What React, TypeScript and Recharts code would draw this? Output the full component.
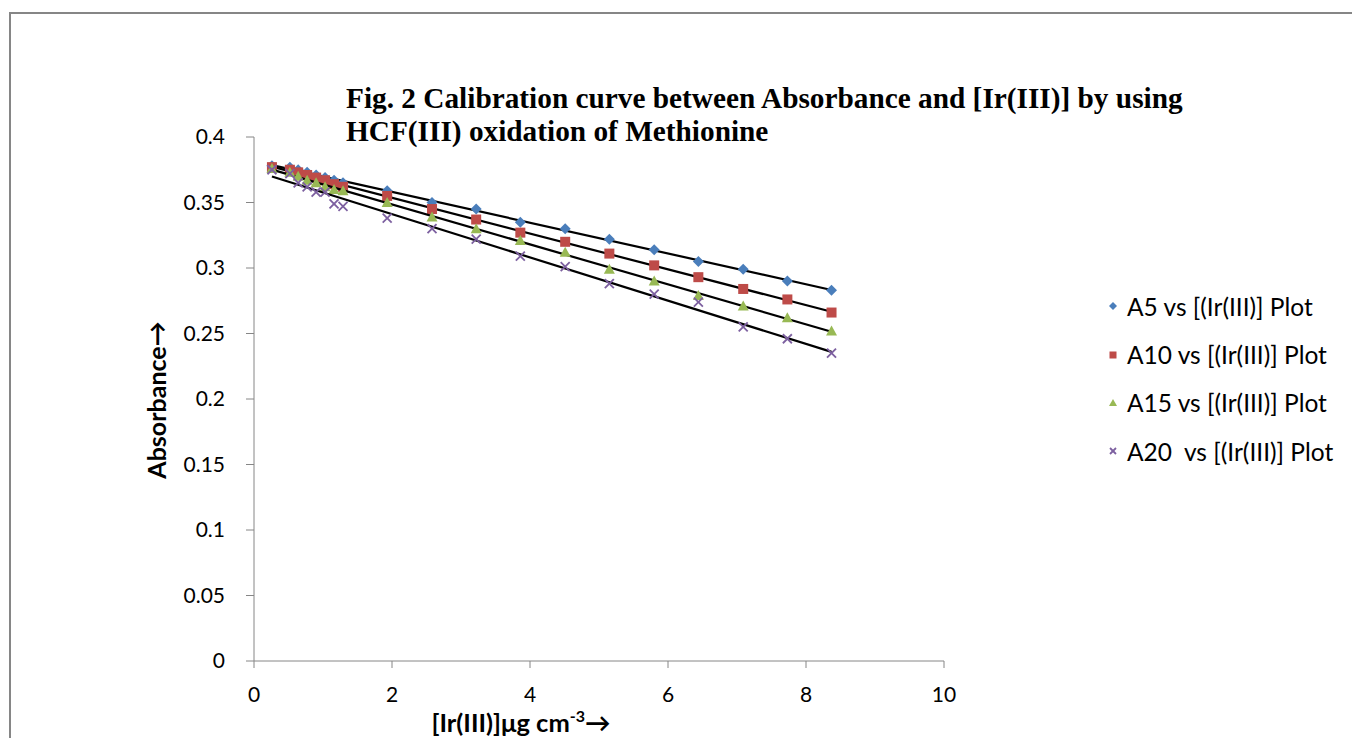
import { ScatterChart, Scatter, XAxis, YAxis, Label } from 'recharts';

// [Ir(III)] in µg cm-3
const concentration = [0.26, 0.52, 0.64, 0.77, 0.9, 1.03, 1.16, 1.29, 1.93, 2.58, 3.22, 3.86, 4.51, 5.15, 5.8, 6.44, 7.09, 7.73, 8.37];

const absorbanceA5 = [0.378, 0.377, 0.375, 0.373, 0.371, 0.369, 0.367, 0.365, 0.359, 0.35, 0.345, 0.335, 0.33, 0.322, 0.314, 0.305, 0.299, 0.29, 0.283];
const absorbanceA10 = [0.377, 0.375, 0.373, 0.371, 0.369, 0.367, 0.364, 0.362, 0.355, 0.345, 0.337, 0.327, 0.32, 0.311, 0.302, 0.293, 0.284, 0.276, 0.266];
const absorbanceA15 = [0.376, 0.373, 0.37, 0.367, 0.365, 0.362, 0.36, 0.359, 0.35, 0.339, 0.33, 0.321, 0.312, 0.299, 0.29, 0.279, 0.271, 0.262, 0.252];
const absorbanceA20 = [0.375, 0.372, 0.365, 0.362, 0.358, 0.358, 0.349, 0.347, 0.338, 0.33, 0.322, 0.309, 0.301, 0.288, 0.28, 0.274, 0.255, 0.246, 0.235];

const seriesNames = ['A5 vs [(Ir(III)] Plot', 'A10 vs [(Ir(III)] Plot', 'A15 vs [(Ir(III)] Plot', 'A20  vs [(Ir(III)] Plot'];
const xTicks = [0, 2, 4, 6, 8, 10];
const yTicks = [0, 0.05, 0.1, 0.15, 0.2, 0.25, 0.3, 0.35, 0.4];

type Kind = 'diamond' | 'square' | 'triangle' | 'x';

const series: { name: string; values: number[]; color: string; kind: Kind }[] = [
  { name: seriesNames[0], values: absorbanceA5, color: '#4a7ebb', kind: 'diamond' },
  { name: seriesNames[1], values: absorbanceA10, color: '#be4b48', kind: 'square' },
  { name: seriesNames[2], values: absorbanceA15, color: '#98b954', kind: 'triangle' },
  { name: seriesNames[3], values: absorbanceA20, color: '#7d60a0', kind: 'x' },
];

const AXIS = '#868686';
const FONT = 'Lato, "Open Sans", sans-serif';

function Marker({ cx, cy, kind, color, r = 5.5 }: { cx: number; cy: number; kind: Kind; color: string; r?: number }) {
  if (kind === 'diamond') {
    return <polygon points={`${cx},${cy - r} ${cx + r},${cy} ${cx},${cy + r} ${cx - r},${cy}`} fill={color} />;
  }
  if (kind === 'square') {
    return <rect x={cx - r + 0.5} y={cy - r + 0.5} width={2 * r - 1} height={2 * r - 1} fill={color} />;
  }
  if (kind === 'triangle') {
    return <polygon points={`${cx},${cy - r} ${cx + r},${cy + r - 1} ${cx - r},${cy + r - 1}`} fill={color} />;
  }
  const d = r - 1;
  return (
    <g stroke={color} strokeWidth={1.8}>
      <line x1={cx - d} y1={cy - d} x2={cx + d} y2={cy + d} />
      <line x1={cx - d} y1={cy + d} x2={cx + d} y2={cy - d} />
    </g>
  );
}

function LegendIcon({ kind, color }: { kind: Kind; color: string }) {
  return (
    <svg width={12} height={12} style={{ marginRight: 8 }}>
      <Marker cx={6} cy={6} kind={kind} color={color} r={4} />
    </svg>
  );
}

export default function App() {
  return (
    <div style={{ position: 'fixed', left: 0, top: 0, width: 1352, height: 738, overflow: 'hidden', background: '#fff' }}>
      <div style={{ position: 'absolute', left: 9, top: 12, width: 1400, height: 800, border: `2px solid ${AXIS}`, boxSizing: 'border-box' }} />

      <div
        style={{
          position: 'absolute',
          left: 346,
          top: 82,
          fontFamily: '"Liberation Serif", "Times New Roman", serif',
          fontWeight: 'bold',
          fontSize: 29.3,
          lineHeight: '33px',
          color: '#000',
          whiteSpace: 'nowrap',
        }}
      >
        <div>Fig. 2 Calibration curve between Absorbance and [Ir(III)] by using</div>
        <div>HCF(III) oxidation of Methionine</div>
      </div>

      <div style={{ position: 'absolute', left: 0, top: 0 }}>
        <ScatterChart width={1352} height={738} margin={{ top: 137, right: 408, bottom: 47, left: 194 }}>
          <XAxis
            type="number"
            dataKey="x"
            domain={[0, 10]}
            ticks={xTicks}
            height={30}
            stroke={AXIS}
            tickSize={7}
            tickMargin={19}
            tick={{ fill: '#000', fontSize: 21, fontFamily: FONT }}
          >
            <Label
              content={() => (
                <text x={521} y={732} textAnchor="middle" fontFamily={FONT} fontWeight="bold" fontSize={25.5} fill="#000">
                  [Ir(III)]μg cm
                  <tspan dy={-10} fontSize={16}>-3</tspan>
                  <tspan dy={10}>→</tspan>
                </text>
              )}
            />
          </XAxis>
          <YAxis
            type="number"
            dataKey="y"
            domain={[0, 0.4]}
            ticks={yTicks}
            width={60}
            stroke={AXIS}
            tickSize={8}
            tickMargin={21}
            tick={{ fill: '#000', fontSize: 21, fontFamily: FONT }}
          >
            <Label
              content={() => (
                <text
                  x={166}
                  y={400}
                  transform="rotate(-90 166 400)"
                  textAnchor="middle"
                  fontFamily={FONT}
                  fontWeight="bold"
                  fontSize={25}
                  fill="#000"
                >
                  Absorbance→
                </text>
              )}
            />
          </YAxis>
          {series.map((s) => (
            <Scatter
              key={s.name}
              name={s.name}
              data={concentration.map((x, i) => ({ x, y: s.values[i] }))}
              fill={s.color}
              line={{ stroke: '#000', strokeWidth: 2.2 }}
              lineType="fitting"
              shape={(p: any) => <Marker cx={p.cx} cy={p.cy} kind={s.kind} color={s.color} />}
              isAnimationActive={false}
            />
          ))}
        </ScatterChart>
      </div>

      <div style={{ position: 'absolute', left: 1107, top: 282, fontFamily: FONT, fontSize: 24.5, color: '#000' }}>
        {series.map((s) => (
          <div key={s.name} style={{ display: 'flex', alignItems: 'center', height: 48.4, whiteSpace: 'pre' }}>
            <LegendIcon kind={s.kind} color={s.color} />
            {s.name}
          </div>
        ))}
      </div>
    </div>
  );
}
